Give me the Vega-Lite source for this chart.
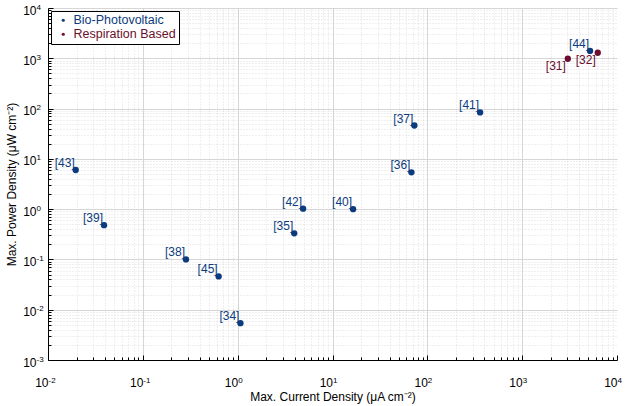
{
  "$schema": "https://vega.github.io/schema/vega-lite/v6.json",
  "width": 569,
  "height": 352,
  "autosize": {"type": "none"},
  "padding": {"left": 48, "top": 8, "right": 9, "bottom": 46},
  "background": "white",
  "data": {
    "values": [
      {"ref": "[43]", "type": "Bio-Photovoltaic", "current": 0.0196, "power": 6.0},
      {"ref": "[39]", "type": "Bio-Photovoltaic", "current": 0.039, "power": 0.48},
      {"ref": "[38]", "type": "Bio-Photovoltaic", "current": 0.285, "power": 0.1},
      {"ref": "[45]", "type": "Bio-Photovoltaic", "current": 0.63, "power": 0.046},
      {"ref": "[34]", "type": "Bio-Photovoltaic", "current": 1.07, "power": 0.0054},
      {"ref": "[35]", "type": "Bio-Photovoltaic", "current": 3.95, "power": 0.33},
      {"ref": "[42]", "type": "Bio-Photovoltaic", "current": 4.9, "power": 1.02},
      {"ref": "[40]", "type": "Bio-Photovoltaic", "current": 16.5, "power": 1.0},
      {"ref": "[36]", "type": "Bio-Photovoltaic", "current": 68, "power": 5.4},
      {"ref": "[37]", "type": "Bio-Photovoltaic", "current": 73, "power": 46},
      {"ref": "[41]", "type": "Bio-Photovoltaic", "current": 360, "power": 84},
      {"ref": "[44]", "type": "Bio-Photovoltaic", "current": 5200, "power": 1400},
      {"ref": "[31]", "type": "Respiration Based", "current": 3030, "power": 980},
      {"ref": "[32]", "type": "Respiration Based", "current": 6270, "power": 1290}
    ]
  },
  "encoding": {
    "x": {
      "field": "current",
      "type": "quantitative",
      "scale": {"type": "log", "domain": [0.01, 10000], "nice": false}
    },
    "y": {
      "field": "power",
      "type": "quantitative",
      "scale": {"type": "log", "domain": [0.001, 10000], "nice": false}
    }
  },
  "layer": [
    {
      "mark": {"type": "text", "align": "right", "baseline": "alphabetic", "dx": -1, "dy": -3, "fontSize": 12},
      "transform": [{"filter": "datum.ref !== '[31]' && datum.ref !== '[32]'"}],
      "encoding": {
        "text": {"field": "ref"},
        "color": {"condition": {"test": "datum.type === 'Respiration Based'", "value": "#6b0d2c"}, "value": "#0b3b7e"},
        "x": {
          "field": "current",
          "type": "quantitative",
          "axis": {
            "orient": "bottom",
            "values": [0.02, 0.03, 0.04, 0.05, 0.06, 0.07, 0.08, 0.09, 0.2, 0.3, 0.4, 0.5, 0.6, 0.7, 0.8, 0.9, 2, 3, 4, 5, 6, 7, 8, 9, 20, 30, 40, 50, 60, 70, 80, 90, 200, 300, 400, 500, 600, 700, 800, 900, 2000, 3000, 4000, 5000, 6000, 7000, 8000, 9000],
            "labels": false,
            "domain": false,
            "title": null,
            "grid": true,
            "gridDash": [1, 2],
            "gridColor": "#c8c8c8",
            "gridOpacity": 0.6,
            "tickSize": -3,
            "tickColor": "black"
          }
        },
        "y": {
          "field": "power",
          "type": "quantitative",
          "axis": {
            "orient": "left",
            "values": [0.002, 0.003, 0.004, 0.005, 0.006, 0.007, 0.008, 0.009, 0.02, 0.03, 0.04, 0.05, 0.06, 0.07, 0.08, 0.09, 0.2, 0.3, 0.4, 0.5, 0.6, 0.7, 0.8, 0.9, 2, 3, 4, 5, 6, 7, 8, 9, 20, 30, 40, 50, 60, 70, 80, 90, 200, 300, 400, 500, 600, 700, 800, 900, 2000, 3000, 4000, 5000, 6000, 7000, 8000, 9000],
            "labels": false,
            "domain": false,
            "title": null,
            "grid": true,
            "gridDash": [1, 2],
            "gridColor": "#c8c8c8",
            "gridOpacity": 0.6,
            "tickSize": -3,
            "tickColor": "black"
          }
        }
      }
    },
    {
      "mark": {"type": "text", "align": "right", "baseline": "top", "dx": -2, "dy": 2, "fontSize": 12},
      "transform": [{"filter": "datum.ref === '[31]' || datum.ref === '[32]'"}],
      "encoding": {
        "text": {"field": "ref"},
        "color": {"condition": {"test": "datum.type === 'Respiration Based'", "value": "#6b0d2c"}, "value": "#0b3b7e"},
        "x": {
          "field": "current",
          "type": "quantitative",
          "axis": {
            "orient": "bottom",
            "values": [0.01, 0.1, 1, 10, 100, 1000, 10000],
            "labelExpr": "'' + round(log(datum.value)/LN10)",
            "labelAlign": "left",
            "labelBaseline": "top",
            "labelFontSize": 8,
            "labelPadding": 16,
            "ticks": false,
            "tickSize": 0,
            "domain": false,
            "grid": false,
            "title": null
          }
        },
        "y": {
          "field": "power",
          "type": "quantitative",
          "axis": {
            "orient": "left",
            "values": [0.001, 0.01, 0.1, 1, 10, 100, 1000, 10000],
            "labelExpr": "'' + round(log(datum.value)/LN10)",
            "labelAlign": "left",
            "labelBaseline": "top",
            "labelFontSize": 8,
            "labelPadding": 12,
            "labelOffset": -5,
            "ticks": false,
            "tickSize": 0,
            "domain": false,
            "grid": false,
            "title": null
          }
        }
      }
    },
    {
      "mark": {"type": "point", "filled": true, "opacity": 1, "size": 40},
      "encoding": {
        "x": {
          "field": "current",
          "type": "quantitative",
          "axis": {
            "orient": "bottom",
            "values": [0.01, 0.1, 1, 10, 100, 1000, 10000],
            "labelExpr": "'10'",
            "labelAlign": "right",
            "labelBaseline": "top",
            "title": "Max. Current Density (μA cm⁻²)",
            "grid": true,
            "gridColor": {"condition": {"test": "datum.value >= 10000", "value": "transparent"}, "value": "#d6d6d6"},
            "domainColor": "black",
            "tickColor": "black",
            "tickSize": -5,
            "labelPadding": 22,
            "titlePadding": 3
          }
        },
        "y": {
          "field": "power",
          "type": "quantitative",
          "axis": {
            "orient": "left",
            "values": [0.001, 0.01, 0.1, 1, 10, 100, 1000, 10000],
            "labelExpr": "'10'",
            "labelAlign": "right",
            "labelBaseline": "middle",
            "labelOffset": 2,
            "title": "Max. Power Density (μW cm⁻²)",
            "grid": true,
            "gridColor": {"condition": {"test": "datum.value <= 0.001", "value": "transparent"}, "value": "#d6d6d6"},
            "domainColor": "black",
            "tickColor": "black",
            "tickSize": -5,
            "labelPadding": 17,
            "titlePadding": 4
          }
        },
        "color": {
          "field": "type",
          "type": "nominal",
          "scale": {
            "domain": ["Bio-Photovoltaic", "Respiration Based"],
            "range": ["#0b3b7e", "#6b0d2c"]
          },
          "legend": {
            "orient": "top-left",
            "offset": 3,
            "title": null,
            "strokeColor": "black",
            "fillColor": "white",
            "padding": 3,
            "symbolOffset": 3,
            "symbolType": "circle",
            "symbolSize": 10,
            "labelFontSize": 12.5,
            "labelOffset": 4,
            "rowPadding": 1,
            "labelColor": {"expr": "datum.value === 'Respiration Based' ? '#6b0d2c' : '#0b3b7e'"}
          }
        }
      }
    }
  ],
  "resolve": {"axis": {"x": "independent", "y": "independent"}},
  "config": {
    "font": "Liberation Sans",
    "view": {"stroke": null},
    "axis": {
      "labelFontSize": 12,
      "titleFontSize": 12,
      "titleFontWeight": "normal",
      "labelColor": "black",
      "titleColor": "black",
      "labelOverlap": false,
      "labelFlush": false,
      "domainWidth": 1,
      "gridWidth": 1
    }
  }
}
